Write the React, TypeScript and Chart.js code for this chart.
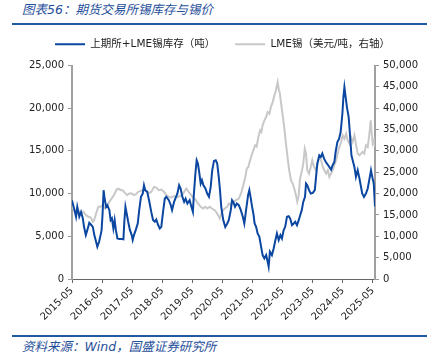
import React, { useEffect, useRef } from "react";
import { Chart, registerables } from "chart.js";

Chart.register(...registerables);

// months since 2015-05 for each inventory observation
const invMonths = [
  0, 0.8, 1.6, 2.1, 2.9, 3.6, 4.3, 4.8, 5.5, 6.1, 6.9, 7.6, 8.3, 8.9, 9.6, 10.1, 10.8, 11.4, 11.8,
  12.2, 12.6, 13.0, 13.6, 14.1, 14.9, 15.4, 15.9, 16.5, 17.0, 17.5, 18.1, 18.9, 19.8, 20.5, 20.9,
  21.3, 21.8, 22.4, 23.1, 23.8, 24.2, 24.7, 25.4, 26.2, 26.8, 27.5, 28.2, 28.7, 29.2, 30.0, 30.8,
  31.6, 32.3, 33.0, 33.6, 34.3, 35.0, 35.6, 36.3, 37.0, 37.6, 38.6, 39.4, 39.9, 40.7, 41.2, 42.0,
  42.7, 43.3, 44.0, 44.7, 45.3, 46.0, 46.9, 47.6, 48.2, 48.6, 49.2, 49.7, 50.2, 50.8, 51.3, 51.8,
  52.4, 53.2, 53.9, 54.6, 55.3, 55.9, 56.6, 57.3, 57.9, 58.5, 59.0, 59.5, 60.3, 61.1, 61.9, 62.5,
  63.3, 63.8, 64.3, 65.0, 65.7, 66.5, 67.3, 68.1, 68.7, 69.4, 70.2, 70.7, 71.3, 71.8, 72.3, 72.8,
  73.4, 74.0, 74.7, 75.4, 76.0, 76.7, 77.4, 78.0, 78.4, 78.9, 79.7, 80.4, 81.1, 81.7, 82.4, 83.1,
  83.7, 84.4, 85.0, 85.7, 86.4, 87.0, 87.7, 88.4, 89.0, 89.7, 90.4, 91.0, 91.6, 92.2, 92.9, 93.3,
  93.8, 94.5, 95.2, 96.0, 96.8, 97.3, 97.8, 98.6, 99.2, 99.8, 100.5, 101.2, 101.8, 102.6, 103.3,
  103.9, 104.6, 105.1, 105.8, 106.5, 107.1, 107.8, 108.2, 108.6, 109.1, 109.6, 110.3, 110.8, 111.4,
  111.9, 112.6, 113.2, 113.9, 114.6, 115.1, 115.7, 116.4, 117.2, 117.9, 118.5, 119.2, 119.7, 120.3,
  120.8,
];
// SHFE + LME tin inventory (tonnes)
const invValues = [
  9200, 8300, 7280, 8450, 7300, 7860, 7130, 6110, 5140, 5720, 6580, 6350, 6100, 5140, 4360, 3780, 4360, 5140, 5720,
  7670, 10400, 9420, 8450, 8640, 8060, 6900, 7100, 5920, 6900, 5720, 4750, 4670, 4670, 4650, 6900,
  8450, 7670, 6700, 5720, 5140, 4560, 5140, 5720, 6500, 8060, 9620, 10000, 10980, 10400, 10200, 9100,
  7860, 6900, 6700, 6970, 6350, 5920, 6100, 7860, 9420, 9620, 9230, 8640, 8060, 9030, 9420, 10000,
  10980, 10600, 9620, 9030, 9420, 8840, 9230, 8450, 7860, 10000, 12350, 13900, 13520, 12350, 11180, 11570,
  10980, 10600, 10000, 9620, 10790, 12730, 13830, 13900, 13520, 11960, 10400, 8450, 6900, 6100, 6500, 6890,
  8060, 9230, 9030, 8450, 8840, 8640, 8060, 7280, 6500, 8060, 9810, 10400, 9420, 8450, 7670, 6500,
  6110, 5340, 4940, 3770, 2800, 2410, 2800, 2030, 1440, 3190, 2800, 3580, 4560, 5340, 4560, 5140,
  4750, 5720, 6110, 7280, 7350, 7080, 6300, 6500, 6700, 6300, 6890, 7500, 8060, 9030, 9620, 11180,
  10980, 10400, 10010, 10080, 10400, 11960, 13520, 14490, 14300, 14690, 14100, 13700, 13450, 13120, 12800,
  13330, 13700, 14870, 16040, 16430, 17210, 19350, 21300, 22470, 21300, 20130, 18960, 17020, 14490,
  13900, 13120, 11960, 12730, 11770, 10980, 10010, 9620, 10010, 10600, 11570, 12730, 11960, 11180,
  8500,
];

// months since 2015-05 for each LME tin price observation
const tinMonths = [
  0, 0.8, 1.6, 2.5, 3.5, 4.5, 5.6, 6.5, 7.5, 8.3, 8.8, 9.6, 10.5, 11.4, 12.2, 13.2, 14.1, 14.9, 15.8,
  16.7, 17.8, 18.5, 19.4, 20.2, 21.1, 22.0, 22.8, 23.8, 24.7, 25.5, 26.4, 27.4, 28.2, 29.1, 30.0,
  30.8, 31.6, 32.7, 33.6, 34.6, 35.6, 36.7, 37.6, 38.6, 39.6, 40.7, 41.6, 42.9, 43.9, 44.7, 45.6,
  46.5, 47.3, 48.2, 49.2, 50.2, 51.3, 52.2, 53.1, 53.9, 54.9, 55.8, 56.9, 57.9, 58.9, 59.8, 60.9,
  61.9, 62.5, 63.4, 64.3, 65.4, 66.5, 67.4, 68.3, 69.1, 69.7, 70.3, 71.0, 71.6, 72.3, 73.0, 73.6,
  74.3, 75.0, 75.5, 76.0, 76.7, 77.4, 78.0, 78.7, 79.3, 80.0, 80.7, 81.3, 82.0, 82.4, 82.9, 83.3,
  84.0, 84.6, 85.3, 86.0, 86.6, 87.3, 88.0, 88.6, 89.3, 89.8, 90.4, 90.9, 91.7, 92.2, 92.8, 93.3,
  93.8, 94.5, 95.2, 95.8, 96.5, 97.2, 97.8, 98.6, 99.3, 100.0, 100.6, 101.3, 102.0, 102.6, 103.3,
  103.9, 104.6, 105.3, 105.9, 106.6, 107.3, 107.9, 108.6, 109.3, 109.9, 110.6, 111.2, 111.9, 112.6,
  113.3, 113.9, 114.6, 115.2, 115.9, 116.5, 117.2, 117.9, 118.5, 119.1, 119.5, 119.9, 120.4, 120.8,
];
// LME tin price (USD / tonne)
const tinValues = [
  17000, 16120, 15770, 16120, 15190, 15770, 14950, 14560, 14400, 13390, 13710, 15340, 16900, 16900, 17300, 16500, 17300, 18060, 18850,
  19630, 20950, 21180, 20800, 20800, 20170, 19630, 20010, 20010, 19630, 19860, 20400, 20630, 20800, 20800, 20400,
  20100, 20400, 21570, 21400, 20800, 20950, 20400, 19630, 19230, 19100, 19390, 19100, 19390, 19630, 20400, 21190,
  20400, 19860, 19100, 18620, 17690, 16900, 16510, 16900, 16510, 16900, 16510, 16120, 15340, 14170, 15770, 16510,
  16900, 17690, 17300, 18060, 18460, 18840, 20020, 21960, 23900, 25860, 26250, 27800, 28970, 30140, 31310, 31000,
  33250, 34810, 34420, 35980, 37150, 37930, 39100, 38700, 40260, 41430, 43000, 44160, 46100, 44550, 43380, 41430,
  38320, 35590, 31700, 28200, 25470, 23130, 22350, 21190, 19630, 18060, 19630, 23500, 25470, 27030, 30530, 29370,
  25470, 24680, 26250, 27800, 26250, 25470, 26640, 28580, 27800, 26250, 25470, 24690, 25470, 23900, 24690,
  25470, 26640, 27800, 29370, 30920, 32090, 33650, 32870, 34040, 32480, 31700, 33250, 32090, 33650,
  31310, 29370, 28970, 29370, 29760, 29370, 31310, 30920, 33650, 37150, 34040, 31700, 32480, 31000,
];

const startYear = 2015;
const seriesLabels = ["上期所+LME锡库存（吨）", "LME锡（美元/吨，右轴）"];
const titleText = "图表56：期货交易所锡库存与锡价";
const sourceText = "资料来源：Wind，国盛证券研究所";

const BLUE = "#0B47A1";
const GRAY = "#C8C8C8";
const RULE = "#2257A4";
const FONT = "'DejaVu Sans', 'Noto Sans CJK SC', sans-serif";

const legendGap = {
  id: "legendGap",
  beforeInit(chart: any) {
    const lg = chart.legend;
    if (!lg) return;
    const orig = lg.fit;
    lg.fit = function () {
      orig.call(this);
      this.height += 6;
    };
  },
};

export default function App() {
  const ref = useRef<HTMLCanvasElement | null>(null);

  useEffect(() => {
    if (!ref.current) return;
    const chart = new Chart(ref.current, {
      type: "line",
      data: {
        datasets: [
          {
            label: seriesLabels[0],
            data: invMonths.map((m, i) => ({ x: m, y: invValues[i] })),
            borderColor: BLUE,
            backgroundColor: BLUE,
            borderWidth: 2,
            pointRadius: 0,
            tension: 0,
            yAxisID: "y",
          },
          {
            label: seriesLabels[1],
            data: tinMonths.map((m, i) => ({ x: m, y: tinValues[i] })),
            borderColor: GRAY,
            backgroundColor: GRAY,
            borderWidth: 2,
            pointRadius: 0,
            tension: 0,
            yAxisID: "y1",
          },
        ],
      },
      plugins: [legendGap],
      options: {
        animation: false,
        responsive: false,
        maintainAspectRatio: false,
        layout: { padding: { top: 0, left: 14, right: 0, bottom: 0 } },
        plugins: {
          tooltip: { enabled: false },
          legend: {
            display: true,
            position: "top",
            labels: {
              boxWidth: 30,
              boxHeight: 2,
              padding: 20,
              color: "#222",
              font: { family: FONT, size: 10.5 },
              generateLabels: (c: any) =>
                c.data.datasets.map((ds: any, i: number) => ({
                  text: ds.label,
                  fillStyle: ds.borderColor,
                  strokeStyle: ds.borderColor,
                  lineWidth: 0,
                  hidden: false,
                  datasetIndex: i,
                  fontColor: "#222",
                })),
            },
          },
        },
        scales: {
          x: {
            type: "linear",
            min: 0,
            max: 120.8,
            afterFit: (s: any) => {
              s.height = 51;
            },
            ticks: {
              stepSize: 12,
              includeBounds: false,
              autoSkip: false,
              minRotation: 45,
              maxRotation: 45,
              padding: 2,
              color: "#222",
              font: { family: FONT, size: 10 },
              callback: (v: any) => `${startYear + Math.round(Number(v) / 12)}-05`,
            },
            grid: { drawOnChartArea: false, drawTicks: true, tickLength: 4, color: "#666" },
            border: { display: true, color: "#666", width: 1 },
          },
          y: {
            position: "left",
            min: 0,
            max: 25000,
            afterFit: (s: any) => {
              s.width = 58;
            },
            ticks: {
              stepSize: 5000,
              padding: 4,
              color: "#222",
              font: { family: FONT, size: 10 },
            },
            grid: { drawOnChartArea: false, drawTicks: true, tickLength: 4, color: "#999" },
            border: { display: true, color: "#A0A0A0", width: 2 },
          },
          y1: {
            position: "right",
            min: 0,
            max: 50000,
            afterFit: (s: any) => {
              s.width = 56;
            },
            ticks: {
              stepSize: 5000,
              padding: 4,
              color: "#222",
              font: { family: FONT, size: 10 },
            },
            grid: { drawOnChartArea: false, drawTicks: true, tickLength: 4, color: "#999" },
            border: { display: true, color: "#A0A0A0", width: 2 },
          },
        },
      },
    });
    return () => chart.destroy();
  }, []);

  return (
    <div
      style={{
        position: "absolute",
        left: 0,
        top: 0,
        width: 431,
        height: 355,
        background: "#fff",
        overflow: "hidden",
        fontFamily: FONT,
      }}
    >
      <div
        style={{
          position: "absolute",
          left: 22,
          top: 2,
          fontSize: 12.5,
          lineHeight: "16px",
          fontStyle: "italic",
          color: "#1F4E9A",
          whiteSpace: "nowrap",
        }}
      >
        {titleText}
      </div>
      <div style={{ position: "absolute", left: 12, top: 23, width: 415, height: 2, background: RULE }} />
      <div style={{ position: "absolute", left: 0, top: 19, width: 431, height: 311 }}>
        <canvas ref={ref} width={431} height={311} style={{ width: 431, height: 311, display: "block" }} />
      </div>
      <div style={{ position: "absolute", left: 12, top: 335, width: 415, height: 2, background: RULE }} />
      <div
        style={{
          position: "absolute",
          left: 22,
          top: 340,
          fontSize: 12.5,
          lineHeight: "14px",
          fontStyle: "italic",
          color: "#1F4E9A",
          whiteSpace: "nowrap",
        }}
      >
        {sourceText}
      </div>
    </div>
  );
}
